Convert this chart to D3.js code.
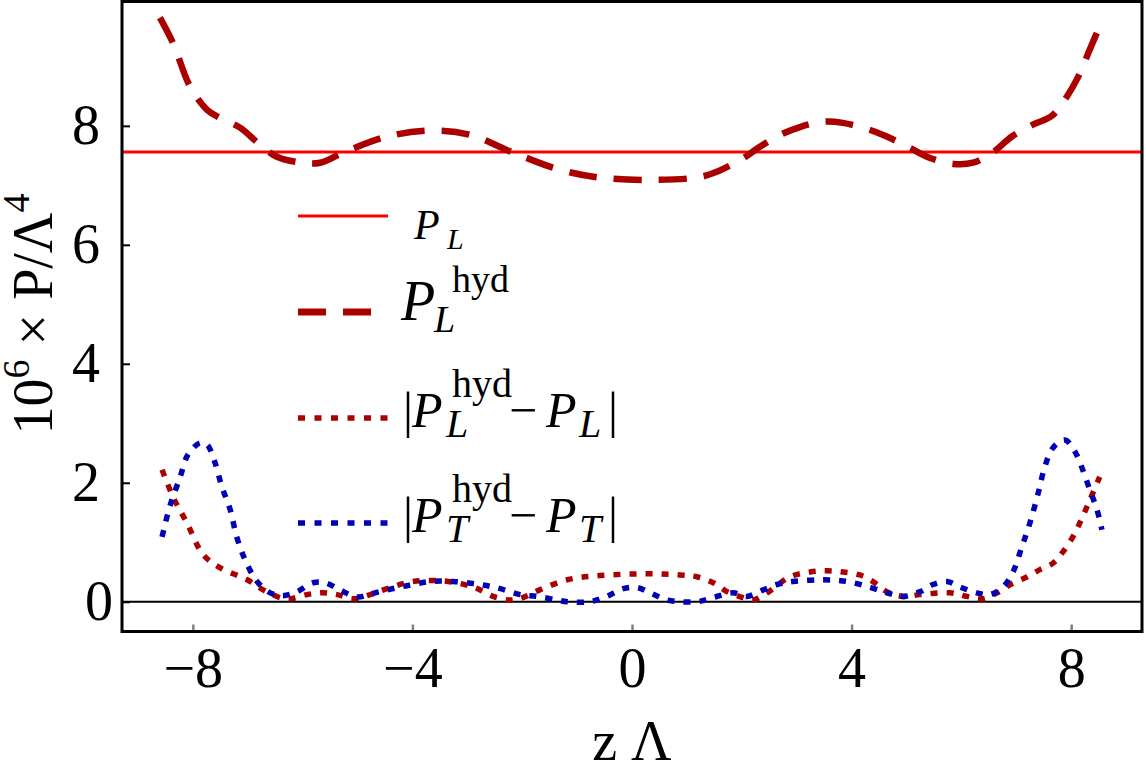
<!DOCTYPE html>
<html>
<head>
<meta charset="utf-8">
<script src="https://cdn.jsdelivr.net/npm/d3@7"></script>
<style>
  body { margin: 0; background: #fff; }
  svg { display: block; }
  text { font-family: "Liberation Serif", "Times New Roman", serif; fill: #000; }
</style>
</head>
<body>
<svg id="chart"></svg>
<script>
// reference level P_L
var pL = 7.56;

// P_L^hyd (dashed)
var zHyd = [-8.6, -8.36, -8.05, -7.74, -7.5, -7.14, -6.81, -6.47, -6.01, -5.68, -5.26, -4.46, -3.68, -2.95, -2.19, -1.31, -0.58, 0.33, 1.24, 1.55, 2.02, 2.3, 2.7, 3.06, 3.48, 3.84, 4.34, 4.64, 5.06, 5.43, 5.85, 6.21, 6.58, 6.92, 7.3, 7.65, 7.92, 8.12, 8.31, 8.58];
var pHyd = [9.82, 9.39, 8.66, 8.27, 8.13, 7.97, 7.71, 7.48, 7.38, 7.38, 7.55, 7.82, 7.92, 7.85, 7.56, 7.26, 7.13, 7.09, 7.14, 7.23, 7.45, 7.63, 7.85, 7.98, 8.07, 8.05, 7.93, 7.82, 7.63, 7.46, 7.36, 7.38, 7.56, 7.82, 8.02, 8.17, 8.49, 8.81, 9.22, 9.81];

// |P_L^hyd - P_L| (red dotted)
var zDL = [-8.56, -8.36, -8.11, -7.81, -7.5, -7.01, -6.72, -6.41, -6.23, -5.92, -5.65, -5.37, -5.08, -4.77, -4.4, -3.99, -3.44, -2.9, -2.53, -2.22, -1.99, -1.68, -1.18, -0.58, 0.27, 0.87, 1.18, 1.48, 1.73, 2.02, 2.2, 2.46, 2.88, 3.24, 3.55, 3.84, 4.15, 4.39, 4.64, 4.94, 5.25, 5.79, 6.1, 6.38, 6.65, 6.89, 7.2, 7.43, 7.67, 7.85, 8.03, 8.16, 8.34, 8.52];
var dL = [2.22, 1.76, 1.33, 0.79, 0.57, 0.37, 0.2, 0.07, 0.05, 0.12, 0.15, 0.12, 0.05, 0.12, 0.24, 0.34, 0.35, 0.25, 0.09, 0.03, 0.07, 0.2, 0.37, 0.44, 0.47, 0.45, 0.42, 0.32, 0.17, 0.07, 0.03, 0.15, 0.42, 0.5, 0.52, 0.5, 0.45, 0.34, 0.17, 0.09, 0.12, 0.15, 0.09, 0.05, 0.15, 0.29, 0.42, 0.54, 0.65, 0.84, 1.09, 1.33, 1.71, 2.1];

// |P_T^hyd - P_T| (blue dotted)
var zDT = [-8.56, -8.42, -8.23, -8.09, -7.87, -7.74, -7.6, -7.47, -7.32, -7.2, -7.05, -6.83, -6.59, -6.36, -6.1, -5.81, -5.59, -5.32, -5.01, -4.77, -4.46, -4.1, -3.68, -3.26, -2.77, -2.4, -2.04, -1.73, -1.37, -1.18, -0.77, -0.46, -0.16, 0.09, 0.33, 0.64, 1.18, 1.48, 1.84, 2.09, 2.39, 2.64, 2.93, 3.48, 3.92, 4.34, 4.64, 4.94, 5.25, 5.48, 5.74, 5.97, 6.28, 6.52, 6.76, 6.94, 7.1, 7.25, 7.4, 7.52, 7.67, 7.89, 8.07, 8.21, 8.34, 8.47, 8.56];
var dT = [1.09, 1.6, 2.1, 2.47, 2.67, 2.64, 2.35, 1.93, 1.55, 1.09, 0.71, 0.34, 0.15, 0.1, 0.17, 0.32, 0.32, 0.2, 0.08, 0.13, 0.2, 0.27, 0.34, 0.34, 0.29, 0.22, 0.12, 0.09, 0.03, 0.0, 0.0, 0.09, 0.22, 0.24, 0.15, 0.03, 0.0, 0.07, 0.15, 0.09, 0.2, 0.29, 0.34, 0.37, 0.34, 0.24, 0.15, 0.09, 0.17, 0.29, 0.34, 0.25, 0.15, 0.12, 0.25, 0.5, 0.92, 1.33, 1.83, 2.27, 2.59, 2.72, 2.52, 2.22, 1.88, 1.55, 1.21];

var xTicks = [-8, -4, 0, 4, 8];
var yTicks = [0, 2, 4, 6, 8];

(function() {
  var width = 1146, height = 778;
  var pLeft = 122, pRight = 1142, pTop = 1.5, pBottom = 631.5;
  var serif = '"Liberation Serif", "Times New Roman", serif';

  var svg = d3.select("#chart").attr("width", width).attr("height", height);

  var x = d3.scaleLinear().domain([-9.29, 9.29]).range([pLeft, pRight]);
  var y = d3.scaleLinear().domain([-0.5, 10.09]).range([pBottom, pTop]);

  var zip = function(xs, ys) { return xs.map(function(v, i) { return [v, ys[i]]; }); };

  var line = d3.line()
      .x(function(d) { return x(d[0]); })
      .y(function(d) { return y(d[1]); })
      .curve(d3.curveCatmullRom.alpha(0.5));

  var plot = svg.append("g");

  // zero line
  plot.append("line")
      .attr("x1", pLeft).attr("x2", pRight)
      .attr("y1", y(0)).attr("y2", y(0))
      .attr("stroke", "#000").attr("stroke-width", 2);

  // P_L level
  plot.append("line")
      .attr("x1", pLeft).attr("x2", pRight)
      .attr("y1", y(pL)).attr("y2", y(pL))
      .attr("stroke", "#ff0000").attr("stroke-width", 3);

  var red = "#aa0000", blue = "#0000b4";

  plot.append("path")
      .datum(zip(zDL, dL))
      .attr("d", line)
      .attr("fill", "none").attr("stroke", red)
      .attr("stroke-width", 5.5).attr("stroke-dasharray", "7,9");

  plot.append("path")
      .datum(zip(zDT, dT))
      .attr("d", line)
      .attr("fill", "none").attr("stroke", blue)
      .attr("stroke-width", 5.5).attr("stroke-dasharray", "7,9");

  plot.append("path")
      .datum(zip(zHyd, pHyd))
      .attr("d", line)
      .attr("fill", "none").attr("stroke", red)
      .attr("stroke-width", 6.5).attr("stroke-dasharray", "28,17");

  // axes
  var yAxis = svg.append("g")
      .attr("transform", "translate(" + pLeft + ",0)")
      .call(d3.axisLeft(y).tickValues(yTicks).tickSize(-8).tickPadding(22));
  yAxis.select(".domain").remove();
  yAxis.selectAll(".tick line").attr("stroke", "#000").attr("stroke-width", 2);
  yAxis.selectAll(".tick text")
      .style("font-family", serif)
      .attr("font-size", 56).attr("fill", "#000")
      .attr("x", function(d) { return d === 0 ? -9 : -22; });

  var xAxis = svg.append("g")
      .attr("transform", "translate(0," + pBottom + ")")
      .call(d3.axisBottom(x).tickValues(xTicks).tickSize(-7).tickPadding(16));
  xAxis.select(".domain").remove();
  xAxis.selectAll(".tick line").attr("stroke", "#808080").attr("stroke-width", 2.5);
  xAxis.selectAll(".tick text")
      .style("font-family", serif)
      .attr("font-size", 56).attr("fill", "#000");

  // frame
  svg.append("rect")
      .attr("x", pLeft).attr("y", pTop)
      .attr("width", pRight - pLeft).attr("height", pBottom - pTop)
      .attr("fill", "none").attr("stroke", "#000").attr("stroke-width", 3);

  // axis labels
  svg.append("text")
      .attr("x", 632).attr("y", 760)
      .attr("text-anchor", "middle").attr("font-size", 56)
      .text("z \u039B");

  var yl = svg.append("text")
      .attr("transform", "translate(52,314) rotate(-90)")
      .attr("text-anchor", "middle").attr("font-size", 56);
  yl.append("tspan").text("10");
  yl.append("tspan").attr("font-size", 38).attr("dy", -23).text("6");
  yl.append("tspan").attr("dy", 23).text(" \u00D7 P/\u039B");
  yl.append("tspan").attr("font-size", 38).attr("dy", -23).text("4");

  // legend
  var legendRows = [
    { y: 216, stroke: "#ff0000", width: 3, dash: null },
    { y: 312, stroke: red, width: 7, dash: "28,17" },
    { y: 418, stroke: red, width: 5.5, dash: "7,9.5" },
    { y: 523, stroke: blue, width: 5.5, dash: "7,9.5" }
  ];
  var legend = svg.append("g");
  legendRows.forEach(function(r) {
    legend.append("line")
        .attr("x1", 298).attr("x2", 388)
        .attr("y1", r.y).attr("y2", r.y)
        .attr("stroke", r.stroke).attr("stroke-width", r.width)
        .attr("stroke-dasharray", r.dash);
  });

  function piece(t, px, py, fs, italic) {
    legend.append("text")
        .attr("x", px).attr("y", py)
        .attr("font-size", fs)
        .attr("font-style", italic ? "italic" : "normal")
        .text(t);
  }

  // P_L
  piece("P", 414, 239, 42, true);
  piece("L", 447, 249, 30, true);

  // P_L^hyd
  piece("P", 401, 320, 56, true);
  piece("hyd", 452, 292, 38, false);
  piece("L", 434, 332, 38, true);

  // |P_L^hyd - P_L| and |P_T^hyd - P_T|
  [["L", 427], ["T", 532]].forEach(function(s) {
    var b = s[1], sub = s[0];
    piece("|", 403, b, 50, false);
    piece("P", 412, b, 50, true);
    piece("hyd", 452, b - 30, 40, false);
    piece(sub, 446, b + 10, 40, true);
    piece("\u2212", 509, b, 50, false);
    piece("P", 546, b, 50, true);
    piece(sub, 579, b + 10, 40, true);
    piece("|", 608, b, 50, false);
  });
})();
</script>
</body>
</html>
